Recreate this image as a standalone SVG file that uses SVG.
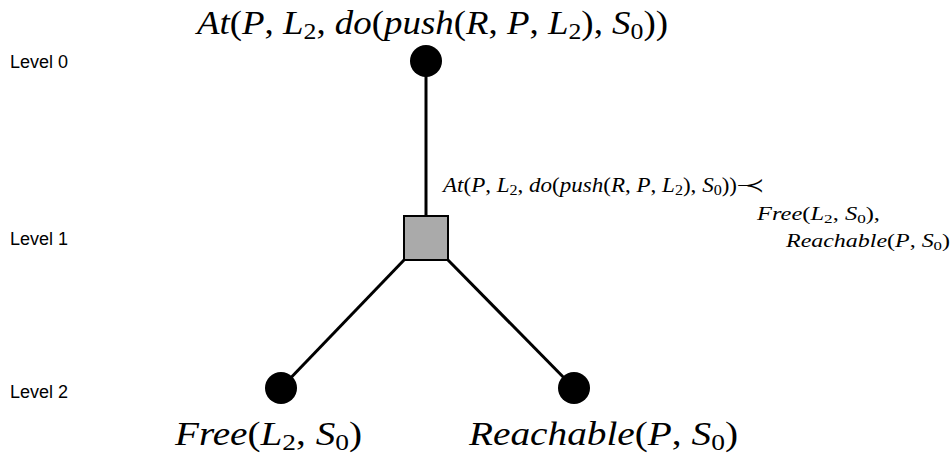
<svg xmlns="http://www.w3.org/2000/svg" width="952" height="457" viewBox="0 0 952 457">
  <style>
    .lvl { font-family: "Liberation Sans", Arial, sans-serif; font-size: 18px; fill: #000; }
    .math { font-family: "Liberation Serif", "Times New Roman", serif; font-style: italic; fill: #000; }
    .up { font-style: normal; }
    .sub { font-style: normal; font-size: 70%; }
    .edge { stroke: #000; stroke-width: 3; fill: none; }
    .dot { fill: #000; }
    .op { fill: #aaaaaa; stroke: #000; stroke-width: 2; }
  </style>

  <!-- level captions -->
  <g id="levels">
    <text class="lvl" x="10" y="68">Level 0</text>
    <text class="lvl" x="10" y="245">Level 1</text>
    <text class="lvl" x="10" y="398">Level 2</text>
  </g>

  <!-- connectors -->
  <g id="connectors">
    <line class="edge" x1="426" y1="61" x2="426" y2="217"/>
    <line class="edge" x1="405" y1="259" x2="281" y2="388"/>
    <line class="edge" x1="447" y1="259" x2="574" y2="388"/>
  </g>

  <!-- goal at level 0 -->
  <g id="goal">
    <circle class="dot" cx="426" cy="61" r="16"/>
    <text class="math" x="197" y="34" font-size="33" textLength="471" lengthAdjust="spacingAndGlyphs">At<tspan class="up">(</tspan>P<tspan class="up">, </tspan>L<tspan class="sub" dy="5">2</tspan><tspan class="up" dy="-5">, </tspan>do<tspan class="up">(</tspan>push<tspan class="up">(</tspan>R<tspan class="up">, </tspan>P<tspan class="up">, </tspan>L<tspan class="sub" dy="5">2</tspan><tspan class="up" dy="-5">), </tspan>S<tspan class="sub" dy="5">0</tspan><tspan class="up" dy="-5">))</tspan></text>
  </g>

  <!-- action node at level 1 -->
  <g id="action">
    <rect class="op" x="404" y="216" width="44" height="44"/>
    <text class="math" x="443" y="192" font-size="20" textLength="322" lengthAdjust="spacingAndGlyphs">At<tspan class="up">(</tspan>P<tspan class="up">, </tspan>L<tspan class="sub" dy="3">2</tspan><tspan class="up" dy="-3">, </tspan>do<tspan class="up">(</tspan>push<tspan class="up">(</tspan>R<tspan class="up">, </tspan>P<tspan class="up">, </tspan>L<tspan class="sub" dy="3">2</tspan><tspan class="up" dy="-3">), </tspan>S<tspan class="sub" dy="3">0</tspan><tspan class="up" dy="-3">))−</tspan><tspan class="up" dx="-4">≺</tspan></text>
    <text class="math" x="757" y="220" font-size="19" textLength="123" lengthAdjust="spacingAndGlyphs">Free<tspan class="up">(</tspan>L<tspan class="sub" dy="3">2</tspan><tspan class="up" dy="-3">, </tspan>S<tspan class="sub" dy="3">0</tspan><tspan class="up" dy="-3">),</tspan></text>
    <text class="math" x="786" y="247" font-size="19" textLength="164" lengthAdjust="spacingAndGlyphs">Reachable<tspan class="up">(</tspan>P<tspan class="up">, </tspan>S<tspan class="sub" dy="3">0</tspan><tspan class="up" dy="-3">)</tspan></text>
  </g>

  <!-- subgoals at level 2 -->
  <g id="free">
    <circle class="dot" cx="281" cy="388" r="16"/>
    <text class="math" x="175" y="445" font-size="33" textLength="187" lengthAdjust="spacingAndGlyphs">Free<tspan class="up">(</tspan>L<tspan class="sub" dy="5">2</tspan><tspan class="up" dy="-5">, </tspan>S<tspan class="sub" dy="5">0</tspan><tspan class="up" dy="-5">)</tspan></text>
  </g>
  <g id="reachable">
    <circle class="dot" cx="574" cy="388" r="16"/>
    <text class="math" x="469" y="445" font-size="33" textLength="269" lengthAdjust="spacingAndGlyphs">Reachable<tspan class="up">(</tspan>P<tspan class="up">, </tspan>S<tspan class="sub" dy="5">0</tspan><tspan class="up" dy="-5">)</tspan></text>
  </g>
</svg>
